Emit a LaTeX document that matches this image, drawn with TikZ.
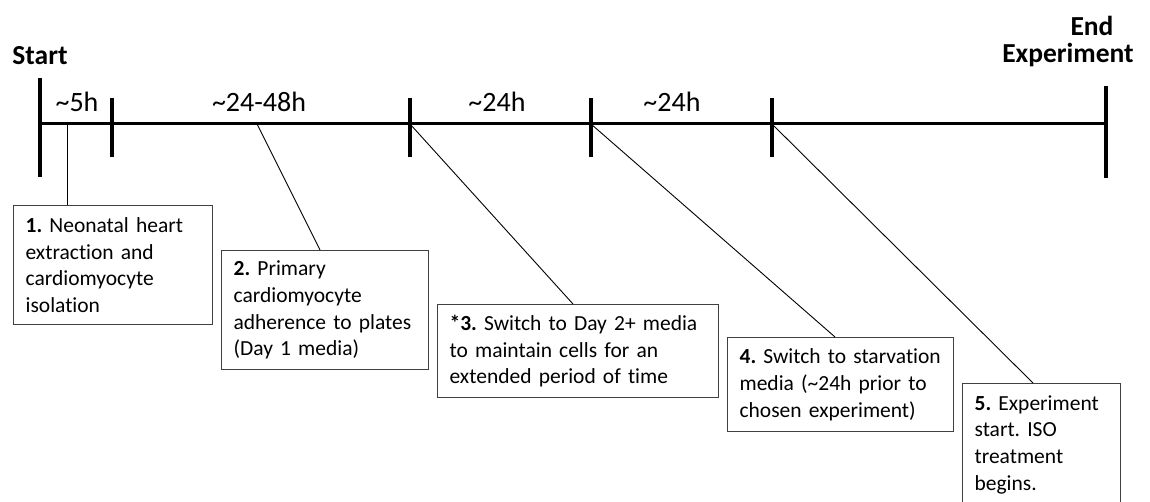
\documentclass[tikz,border=0pt]{standalone}
\usepackage{fontspec}
\setmainfont{Carlito}[Ligatures=NoCommon]
\frenchspacing
\hyphenpenalty=10000
\exhyphenpenalty=10000
\begin{document}
\begin{tikzpicture}[x=1pt,y=-1pt,
  axis/.style={line width=3pt},
  tickmark/.style={line width=4.5pt},
  lbl/.style={font=\fontsize{28}{32}\selectfont, inner sep=0pt, anchor=base},
  blbl/.style={lbl, font=\fontsize{27.5}{32}\selectfont\bfseries},
  stepbox/.style={draw=black!75, line width=1.2pt, anchor=north west, align=left,
    inner xsep=12pt, inner ysep=0pt,
    font=\fontsize{21.5}{26.7}\selectfont},
  conn/.style={line width=0.9pt}]
\useasboundingbox (0,0) rectangle (1150,502);
\clip (0,0) rectangle (1150,502);

% axis coordinates
\coordinate (t0) at (40,124);
\coordinate (t1) at (112,124);
\coordinate (t2) at (410,124);
\coordinate (t3) at (591,124);
\coordinate (t4) at (772,124);
\coordinate (t5) at (1106,124);
\coordinate (c1) at (67,124);
\coordinate (c2) at (257,124);

\draw[axis] (t0) -- (t5);
\draw[tickmark] (t0) ++(0,-46) -- ++(0,99);
\draw[tickmark] (t1) ++(0,-26) -- ++(0,59);
\draw[tickmark] (t2) ++(0,-26) -- ++(0,59);
\draw[tickmark] (t3) ++(0,-26) -- ++(0,59);
\draw[tickmark] (t4) ++(0,-26) -- ++(0,59);
\draw[tickmark] (t5) ++(0,-38) -- ++(0,92);

% labels
\node[blbl] (start) at (40,65) {Start};
\node[blbl] (end) at (1092,36) {End};
\node[blbl] (exp) at (1068,63) {Experiment};
\node[lbl] (d1) at (77,112) {\textasciitilde5h};
\node[lbl] (d2) at (259,112) {\textasciitilde24-48h};
\node[lbl] (d3) at (497,112) {\textasciitilde24h};
\node[lbl] (d4) at (672,112) {\textasciitilde24h};

% boxes
\node[stepbox, text width=175pt, minimum height=119pt] (b1) at (13,205)
  {\textbf{1.} Neonatal heart\\extraction and\\cardiomyocyte\\isolation};
\node[stepbox, text width=183pt, minimum height=119pt] (b2) at (221,250)
  {\textbf{2.} Primary\\cardiomyocyte\\adherence to plates\\(Day 1 media)};
\node[stepbox, text width=257pt, minimum height=93pt] (b3) at (437,304)
  {\textbf{*3.} Switch to Day 2+ media\\to maintain cells for an\\extended period of time};
\node[stepbox, text width=202pt, minimum height=94pt] (b4) at (727,337)
  {\textbf{4.} Switch to starvation\\media (\textasciitilde24h prior to\\chosen experiment)};
\node[stepbox, text width=134pt, minimum height=122pt] (b5) at (962,383)
  {\textbf{5.} Experiment\\start. ISO\\treatment\\begins.};

% connector ends on box tops
\coordinate (e1) at (67,205);
\coordinate (e2) at (320,250);
\coordinate (e3) at (573,304);
\coordinate (e4) at (835,337);
\coordinate (e5) at (1033,383);

\draw[conn] (c1) -- (e1);
\draw[conn] (c2) -- (e2);
\draw[conn] (t2) -- (e3);
\draw[conn] (t3) -- (e4);
\draw[conn] (t4) -- (e5);
\end{tikzpicture}
\end{document}
